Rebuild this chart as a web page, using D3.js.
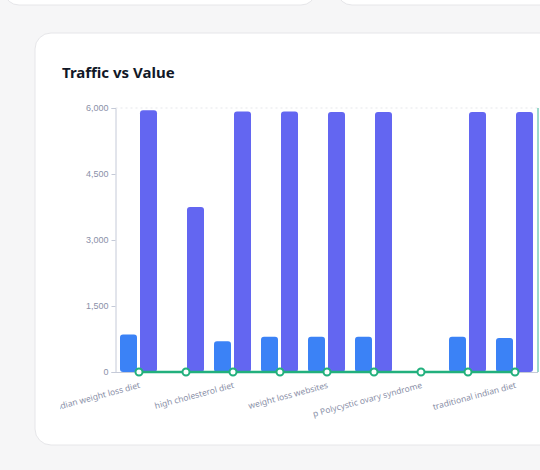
<!DOCTYPE html>
<html><head><meta charset="utf-8">
<script src="https://cdn.jsdelivr.net/npm/d3@7"></script>
<style>body{margin:0;background:#f6f6f7;font-family:"Noto Sans",sans-serif}</style>
</head><body><svg id="c" width="540" height="470"></svg>
<script>
const categories=["indian weight loss diet","c2","high cholesterol diet","c4","weight loss websites","c6","p Polycystic ovary syndrome","c8","traditional indian diet"];
const traffic=[850,0,700,800,800,800,0,800,770];
const value=[5950,3750,5920,5920,5910,5910,0,5910,5910];
const line=[0,0,0,0,0,0,0,0,0];
const yTicks=[0,1500,3000,4500,6000];
const svg=d3.select("#c");
svg.append("rect").attr("x",5).attr("y",-20).attr("width",310).attr("height",25).attr("rx",14).attr("fill","#fff").attr("stroke","#e6e6e9");
svg.append("rect").attr("x",338).attr("y",-20).attr("width",230).attr("height",25).attr("rx",14).attr("fill","#fff").attr("stroke","#e6e6e9");
svg.append("rect").attr("x",35).attr("y",33).attr("width",540).attr("height",412).attr("rx",16).attr("fill","#fff").attr("stroke","#e6e6e9");
svg.append("text").attr("x",62).attr("y",78).attr("font-size",15).attr("font-weight",700).attr("fill","#111827").text("Traffic vs Value");
const x=d3.scaleBand().domain(categories).range([115.5,538.5]);
const y=d3.scaleLinear().domain([0,6000]).range([372,108]);
svg.append("defs").append("clipPath").attr("id","cl").append("rect").attr("x",60).attr("y",90).attr("width",480).attr("height",340);
const g=svg.append("g").attr("clip-path","url(#cl)");
g.append("line").attr("x1",115.5).attr("x2",538).attr("y1",y(6000)).attr("y2",y(6000)).attr("stroke","#e5e7eb").attr("stroke-dasharray","2,3");
const ya=g.append("g").attr("transform","translate(115.5,0)").call(d3.axisLeft(y).tickValues(yTicks).tickSize(4).tickPadding(3));
ya.selectAll("text").attr("font-size",9).attr("fill","#8a90a8");
ya.selectAll("line,path").attr("stroke","#c5cad8");
g.append("line").attr("x1",538).attr("x2",538).attr("y1",108).attr("y2",372).attr("stroke","#3bb39a");
categories.forEach((c,i)=>{
 const cx=x(c)+x.bandwidth()/2;
 g.append("rect").attr("x",cx-19).attr("y",y(traffic[i])).attr("width",17).attr("height",y(0)-y(traffic[i])).attr("rx",3).attr("fill","#3b82f6");
 g.append("rect").attr("x",cx+1).attr("y",y(value[i])).attr("width",17).attr("height",y(0)-y(value[i])).attr("rx",3).attr("fill","#6366f1");
});
g.append("line").attr("x1",115.5).attr("x2",538).attr("y1",372.5).attr("y2",372.5).attr("stroke","#c5cad8");
g.append("path").datum(line).attr("fill","none").attr("stroke","#22b07d").attr("stroke-width",2.5)
 .attr("d",d3.line().x((d,i)=>x(categories[i])+x.bandwidth()/2).y(d=>y(d)));
g.selectAll("circle").data(line).join("circle").attr("cx",(d,i)=>x(categories[i])+x.bandwidth()/2).attr("cy",d=>y(d)).attr("r",3.5).attr("fill","#fff").attr("stroke","#22b07d").attr("stroke-width",2);
categories.forEach((c,i)=>{ if(i%2) return;
 const cx=x(c)+x.bandwidth()/2;
 g.append("text").attr("transform",`translate(${cx},${382}) rotate(-15)`).attr("text-anchor","end").attr("dy","0.7em").attr("font-size",8.5).attr("fill","#8a90a8").text(c);
});
</script></body></html>
